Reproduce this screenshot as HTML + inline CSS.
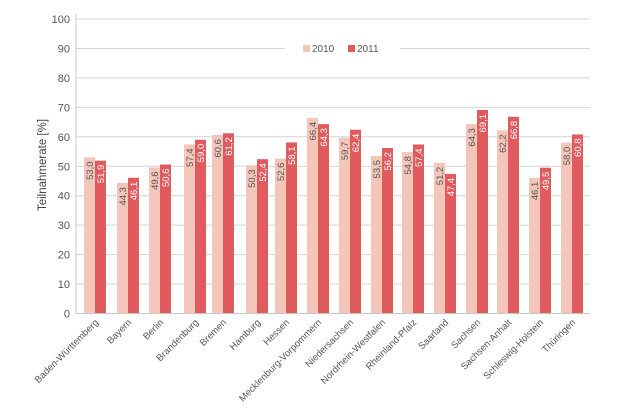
<!DOCTYPE html>
<html><head><meta charset="utf-8"><style>body{margin:0;background:#fff}svg{display:block;font-family:"Liberation Sans",sans-serif}</style></head><body>
<svg width="630" height="412" xmlns="http://www.w3.org/2000/svg">
<g id="grid" stroke="#d4d4d4" stroke-width="1"></g>
<g id="bars"></g>
<script>
const ns="http://www.w3.org/2000/svg";
const svg=document.querySelector('svg');
const Y=v=>313.5-2.945*v;
function el(t,a,p,txt){const e=document.createElementNS(ns,t);for(const k in a)e.setAttribute(k,a[k]);if(txt!==undefined)e.textContent=txt;(p||svg).appendChild(e);return e;}
const g=document.getElementById('grid');
for(let v=10;v<=100;v+=10){el('line',{x1:76,x2:590,y1:Y(v),y2:Y(v)},g);}
for(let v=0;v<=100;v+=10){el('text',{x:70,y:Y(v)+4,'text-anchor':'end','font-size':11,fill:'#555'},svg,String(v));}
el('line',{x1:76,x2:76,y1:14,y2:314,stroke:'#c8c8c8'});
el('line',{x1:76,x2:590,y1:313.5,y2:313.5,stroke:'#c8c8c8'});
el('text',{x:0,y:0,transform:'translate(46,165) rotate(-90)','text-anchor':'middle','font-size':11.5,fill:'#444'},svg,'Teilnahmerate [%]');
const names=['Baden-Württemberg','Bayern','Berlin','Brandenburg','Bremen','Hamburg','Hessen','Mecklenburg-Vorpommern','Niedersachsen','Nordrhein-Westfalen','Rheinland-Pfalz','Saarland','Sachsen','Sachsen-Anhalt','Schleswig-Holstein','Thüringen'];
const a=[53.0,44.3,49.6,57.4,60.6,50.3,52.6,66.4,59.7,53.5,54.8,51.2,64.3,62.2,46.1,58.0];
const b=[51.9,46.1,50.6,59.0,61.2,52.4,58.1,64.3,62.4,56.2,57.4,47.4,69.1,66.8,49.5,60.8];
const xs=[84,117,149,184,212,246,275,307,339,371,402,434,466,497,529,561];
const bars=document.getElementById('bars');
const f=v=>v.toFixed(1).replace('.',',');
for(let i=0;i<16;i++){
 const x=xs[i];
 el('rect',{x:x,y:Y(a[i]),width:11,height:313.5-Y(a[i]),fill:'#f4c5b9'},bars);
 el('rect',{x:x+11,y:Y(b[i]),width:11,height:313.5-Y(b[i]),fill:'#e05b5e'},bars);
 el('text',{transform:`translate(${x+9},${Y(a[i])+4}) rotate(-90)`,'text-anchor':'end','font-size':9.5,fill:'#555'},bars,f(a[i]));
 el('text',{transform:`translate(${x+20},${Y(b[i])+4}) rotate(-90)`,'text-anchor':'end','font-size':9.5,fill:'#fff'},bars,f(b[i]));
 el('text',{transform:`translate(${x+15},${323}) rotate(-45)`,'text-anchor':'end','font-size':9.5,fill:'#555'},svg,names[i]);
}
el('rect',{x:285,y:36,width:115,height:24,fill:'#fff'});
el('rect',{x:303,y:45,width:7,height:7,fill:'#f4c5b9'});
el('text',{x:312,y:52,'font-size':10,fill:'#555'},svg,'2010');
el('rect',{x:348,y:45,width:7,height:7,fill:'#e05b5e'});
el('text',{x:357,y:52,'font-size':10,fill:'#555'},svg,'2011');
</script>
</svg>
</body></html>
